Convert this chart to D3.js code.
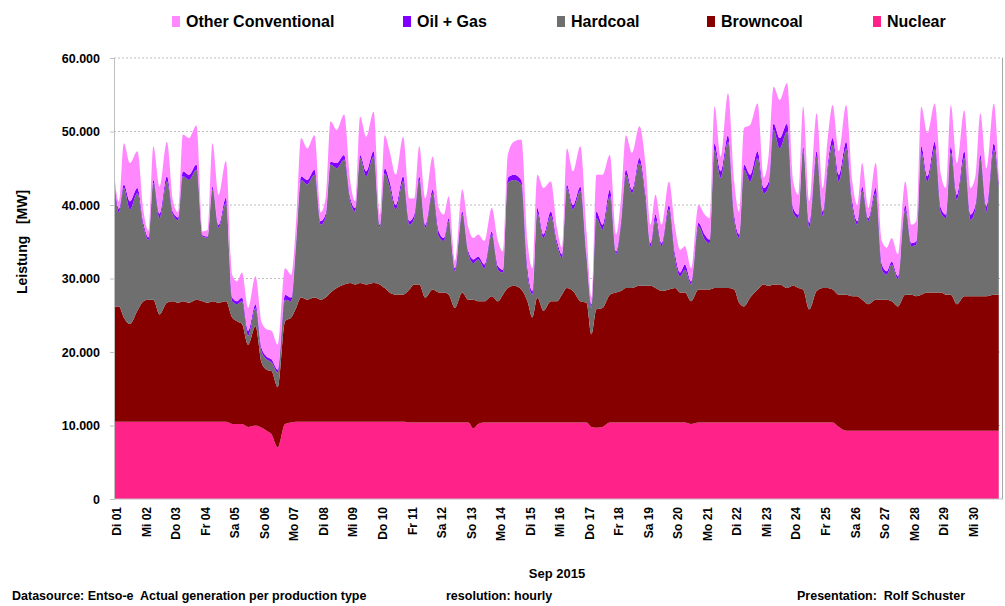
<!DOCTYPE html>
<html>
<head>
<meta charset="utf-8">
<script src="https://cdn.jsdelivr.net/npm/d3@7"></script>
<style>
  body { margin: 0; background: #fff; }
  text { font-family: "Liberation Sans", Arial, sans-serif; font-weight: bold; fill: #000; }
</style>
</head>
<body>
<div id="chart"></div>
<script>
// Day labels on the x axis (September 2015)
const days = ["Di 01", "Mi 02", "Do 03", "Fr 04", "Sa 05", "So 06", "Mo 07", "Di 08", "Mi 09", "Do 10",
              "Fr 11", "Sa 12", "So 13", "Mo 14", "Di 15", "Mi 16", "Do 17", "Fr 18", "Sa 19", "So 20",
              "Mo 21", "Di 22", "Mi 23", "Do 24", "Fr 25", "Sa 26", "So 27", "Mo 28", "Di 29", "Mi 30"];

// Values read per day at these hours, plus one last reading on Sep 30 23:00
const sampleHours = [0, 4, 8, 13, 19];
const lastHour = 23;

const yTicks = [0, 10000, 20000, 30000, 40000, 50000, 60000];

// Generation in MW, one line per day
const nuclear = [
  10500, 10500, 10500, 10500, 10500,
  10500, 10500, 10500, 10500, 10500,
  10500, 10500, 10500, 10500, 10500,
  10500, 10500, 10500, 10500, 10500,
  10200, 10200, 10200, 9800, 10000,
  9700, 9300, 8800, 7000, 10200,
  10400, 10500, 10500, 10500, 10500,
  10500, 10500, 10500, 10500, 10500,
  10500, 10500, 10500, 10500, 10500,
  10500, 10500, 10500, 10500, 10500,
  10400, 10400, 10400, 10400, 10400,
  10400, 10400, 10400, 10400, 10400,
  10400, 9600, 10200, 10400, 10400,
  10400, 10400, 10400, 10400, 10400,
  10400, 10400, 10400, 10400, 10400,
  10400, 10400, 10400, 10400, 10400,
  10400, 9800, 9700, 9800, 10400,
  10400, 10400, 10400, 10400, 10400,
  10400, 10400, 10400, 10400, 10400,
  10400, 10400, 10400, 10200, 10400,
  10400, 10400, 10400, 10400, 10400,
  10400, 10400, 10400, 10400, 10400,
  10400, 10400, 10400, 10400, 10400,
  10400, 10400, 10400, 10400, 10400,
  10400, 10400, 10400, 9800, 9300,
  9300, 9300, 9300, 9300, 9300,
  9300, 9300, 9300, 9300, 9300,
  9300, 9300, 9300, 9300, 9300,
  9300, 9300, 9300, 9300, 9300,
  9300, 9300, 9300, 9300, 9300,
  9300
];

const browncoal = [
  15700, 15700, 14200, 13300, 15100,
  16400, 16600, 16600, 14600, 16200,
  16400, 16200, 16400, 16200, 16600,
  16400, 16200, 16400, 16200, 16400,
  14500, 14000, 13600, 11200, 13500,
  8800, 8300, 8600, 8200, 14000,
  14300, 15500, 16900, 16600, 16900,
  16600, 16900, 17600, 18200, 18700,
  18900, 18700, 18900, 18700, 18900,
  18700, 18200, 17600, 17300, 17300,
  18100, 18800, 18800, 17000, 18100,
  17700, 17700, 17400, 15600, 17700,
  16700, 17500, 16700, 16500, 17200,
  16500, 17400, 18300, 18600, 18100,
  16500, 14300, 17000, 15200, 16500,
  16500, 17400, 18300, 17900, 16500,
  16300, 12600, 16100, 16200, 17400,
  17700, 17900, 18300, 18300, 18600,
  18600, 18600, 18300, 17900, 18100,
  18300, 17700, 17700, 16700, 18100,
  18100, 18100, 18300, 18300, 18300,
  18100, 16300, 15800, 17000, 18100,
  18800, 18600, 18800, 18800, 18300,
  18600, 18300, 18100, 15400, 17900,
  18300, 18300, 18100, 18000, 18500,
  18300, 18300, 17800, 17200, 17800,
  17800, 17800, 17600, 16900, 18500,
  18500, 18300, 18500, 18800, 18800,
  18800, 18500, 18500, 17200, 18300,
  18300, 18300, 18300, 18300, 18500,
  18500
];

const hardcoal = [
  17000, 12800, 17600, 15600, 16000,
  10100, 8100, 15900, 13100, 16500,
  11700, 11200, 17000, 16700, 17700,
  8800, 8800, 15200, 10200, 13400,
  2200, 2300, 3100, 1200, 2500,
  1500, 1400, 1200, 2000, 2900,
  2200, 8600, 16000, 15700, 16700,
  10200, 10900, 17400, 16300, 17000,
  11100, 9900, 17000, 14700, 17200,
  7700, 15600, 14400, 11600, 15400,
  8800, 9000, 14200, 9500, 13100,
  7600, 7000, 10000, 5000, 10600,
  6200, 5000, 5700, 4500, 8400,
  4300, 3000, 14300, 14400, 14300,
  3600, 3100, 11500, 9900, 11600,
  7700, 5000, 13600, 11100, 15000,
  6100, 3600, 12400, 10700, 13400,
  5200, 9000, 15400, 12900, 16700,
  11700, 5400, 9300, 6100, 10900,
  3900, 2200, 3100, 2300, 8600,
  6800, 6300, 18800, 15000, 19900,
  9500, 8800, 18600, 15800, 17900,
  12400, 13500, 21000, 18500, 21300,
  9900, 9500, 19000, 11100, 18300,
  9800, 16100, 19700, 15400, 19900,
  12200, 9700, 14800, 11300, 14500,
  4100, 3400, 5000, 3700, 11600,
  6600, 7000, 19300, 15100, 19600,
  10800, 10400, 19300, 14200, 18800,
  10400, 11800, 18600, 11500, 19700,
  14600
];

const oilGas = [
  600, 500, 500, 1100, 700,
  500, 400, 400, 600, 700,
  400, 400, 700, 700, 700,
  200, 200, 400, 400, 700,
  500, 400, 500, 700, 500,
  500, 400, 400, 400, 700,
  500, 500, 500, 600, 700,
  500, 500, 400, 700, 600,
  500, 500, 400, 700, 700,
  400, 700, 700, 600, 700,
  500, 500, 500, 400, 500,
  700, 400, 400, 400, 400,
  400, 500, 400, 500, 400,
  500, 400, 700, 700, 600,
  900, 500, 700, 500, 600,
  500, 500, 500, 600, 600,
  500, 500, 900, 600, 900,
  400, 500, 700, 500, 700,
  700, 400, 700, 400, 600,
  700, 500, 700, 400, 500,
  700, 500, 900, 900, 900,
  700, 500, 700, 900, 900,
  700, 700, 900, 1400, 1100,
  700, 500, 500, 700, 700,
  600, 700, 900, 900, 900,
  700, 500, 600, 400, 700,
  700, 500, 400, 400, 600,
  400, 500, 900, 700, 900,
  700, 500, 900, 700, 900,
  700, 600, 600, 700, 900,
  600
];

const otherConventional = [
  800, 1000, 5600, 5200, 5000,
  1600, 900, 4600, 3700, 4700,
  1500, 700, 5000, 5000, 5300,
  500, 900, 5900, 4100, 5000,
  3100, 2700, 3400, 3100, 3800,
  3500, 3700, 3900, 3400, 3600,
  3100, 2700, 5200, 4300, 4700,
  1200, 2200, 5500, 4500, 5500,
  2200, 900, 5200, 4700, 5400,
  1400, 4500, 4100, 4100, 5400,
  3100, 2200, 4100, 3600, 4500,
  3200, 3200, 3000, 1000, 3000,
  3200, 2900, 3000, 3200, 3200,
  3400, 2500, 3100, 4500, 5500,
  3700, 3100, 4500, 6300, 4100,
  1800, 900, 4900, 4600, 5500,
  3100, 900, 5000, 6800, 4700,
  2300, 3100, 4700, 5000, 4300,
  4100, 2500, 2700, 2500, 3200,
  3600, 3100, 2500, 1800, 2400,
  2700, 2900, 5000, 2000, 5700,
  4500, 3100, 5000, 6800, 6500,
  1400, 3600, 5000, 5200, 5500,
  3600, 2700, 5400, 2900, 5200,
  3200, 3600, 4500, 3200, 5000,
  2700, 2200, 3200, 1400, 3400,
  3200, 3200, 3200, 3000, 3200,
  2500, 2700, 5400, 5900, 5200,
  4500, 3600, 5600, 4300, 5600,
  3600, 3900, 5700, 5200, 5400,
  1000
];

// Stack order bottom to top, legend order is reversed
const keys = ["nuclear", "browncoal", "hardcoal", "oilGas", "other"];
const names = {nuclear: "Nuclear", browncoal: "Browncoal", hardcoal: "Hardcoal", oilGas: "Oil + Gas", other: "Other Conventional"};
const colors = {nuclear: "#ff2288", browncoal: "#870000", hardcoal: "#6f6f6f", oilGas: "#8000ff", other: "#ff88ff"};

// Build the time grid and the table for d3.stack
const times = [];
days.forEach((d, i) => sampleHours.forEach(h => times.push(new Date(Date.UTC(2015, 8, i + 1, h)))));
times.push(new Date(Date.UTC(2015, 8, 30, lastHour)));

const rows = times.map((t, i) => ({
    date: t,
    nuclear: nuclear[i],
    browncoal: browncoal[i],
    hardcoal: hardcoal[i],
    oilGas: oilGas[i],
    other: otherConventional[i]
}));

const width = 1005, height = 606;
const margin = {top: 58, right: 4, bottom: 107, left: 114};

const svg = d3.select("#chart")
    .append("svg")
    .attr("width", width)
    .attr("height", height);

const x = d3.scaleUtc()
    .domain([new Date(Date.UTC(2015, 8, 1)), new Date(Date.UTC(2015, 9, 1))])
    .range([margin.left, width - margin.right - 1]);

const y = d3.scaleLinear()
    .domain([0, 60000])
    .range([height - margin.bottom, margin.top]);

const de = d3.formatLocale({decimal: ",", thousands: ".", grouping: [3], currency: ["", " €"]});
const fmt = de.format(",");

// Dotted gridlines
svg.append("g")
    .selectAll("line")
    .data(yTicks.filter(v => v > 0))
    .enter()
    .append("line")
    .attr("x1", margin.left)
    .attr("x2", width - 2)
    .attr("y1", d => y(d))
    .attr("y2", d => y(d))
    .attr("stroke", "#bdbdbd")
    .attr("stroke-dasharray", "2,2");

// Stacked areas
const series = d3.stack().keys(keys)(rows);

const area = d3.area()
    .x(d => x(d.data.date))
    .y0(d => y(d[0]))
    .y1(d => y(d[1]))
    .curve(d3.curveMonotoneX);

svg.append("g")
    .selectAll("path")
    .data(series)
    .enter()
    .append("path")
    .attr("d", area)
    .attr("fill", d => colors[d.key]);

// Right border of the plot
svg.append("line")
    .attr("x1", width - 2.5)
    .attr("x2", width - 2.5)
    .attr("y1", y(60000))
    .attr("y2", y(0))
    .attr("stroke", "#a6a6a6");

// Y axis
const yAxis = svg.append("g")
    .attr("transform", `translate(${margin.left},0)`)
    .call(d3.axisLeft(y).tickValues(yTicks).tickFormat(fmt).tickSize(4).tickPadding(10));
yAxis.select(".domain").attr("stroke", "#bfbfbf");
yAxis.selectAll(".tick line").attr("stroke", "#bfbfbf");
yAxis.selectAll("text").style("font-size", "12.5px").attr("fill", "#000");

// X axis line and day labels
const xAxis = svg.append("g")
    .attr("transform", `translate(0,${y(0)})`);
xAxis.append("line")
    .attr("x1", margin.left)
    .attr("x2", width - 2)
    .attr("stroke", "#bfbfbf");

xAxis.selectAll("text")
    .data(days)
    .enter()
    .append("text")
    .attr("transform", (d, i) => `translate(${x(new Date(Date.UTC(2015, 8, i + 1))) + 3},8) rotate(-90)`)
    .attr("dy", "0.35em")
    .style("text-anchor", "end")
    .style("font-size", "12px")
    .text(d => d);

svg.append("text")
    .attr("x", 557)
    .attr("y", 578)
    .style("text-anchor", "middle")
    .style("font-size", "13px")
    .text("Sep 2015");

// Y axis title
svg.append("text")
    .attr("transform", "rotate(-90)")
    .attr("x", -242)
    .attr("y", 27)
    .style("text-anchor", "middle")
    .style("font-size", "14px")
    .attr("xml:space", "preserve")
    .text("Leistung   [MW]");

// Legend on top
const legendX = [172, 403, 557, 707, 873];
const legend = svg.selectAll(".legend")
    .data(keys.slice().reverse())
    .enter()
    .append("g")
    .attr("class", "legend")
    .attr("transform", (d, i) => `translate(${legendX[i]},16)`);

legend.append("rect")
    .attr("width", 8)
    .attr("height", 11)
    .attr("fill", d => colors[d]);

legend.append("text")
    .attr("x", 14)
    .attr("y", 11)
    .style("font-size", "16px")
    .text(d => names[d]);

// Footer
const footer = [
    {x: 12, text: "Datasource: Entso-e  Actual generation per production type"},
    {x: 446, text: "resolution: hourly"},
    {x: 797, text: "Presentation:  Rolf Schuster"}
];
svg.selectAll(".footer")
    .data(footer)
    .enter()
    .append("text")
    .attr("class", "footer")
    .attr("x", d => d.x)
    .attr("y", 600)
    .attr("xml:space", "preserve")
    .style("font-size", "12.5px")
    .text(d => d.text);
</script>
</body>
</html>
